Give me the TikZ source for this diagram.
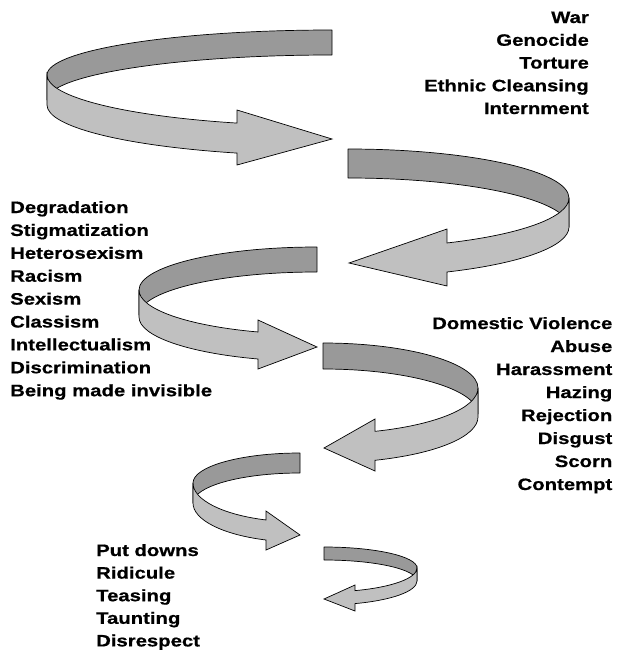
\documentclass[tikz,border=0pt]{standalone}
\usepackage{fontspec}
\newfontfamily\lab[FakeStretch=1.23, BoldFeatures={FakeBold=0.6}]{Liberation Sans}
\definecolor{ribdark}{HTML}{999999}
\definecolor{riblight}{HTML}{C0C0C0}
\tikzset{
  back/.style={fill=ribdark, draw=black, line width=0.7pt, line join=round},
  front/.style={fill=riblight, draw=black, line width=0.7pt, line join=miter},
  lbl/.style={inner sep=0pt, font=\lab\bfseries\fontsize{16.5}{20}\selectfont},
  lblR/.style={lbl, anchor=base east},
  lblL/.style={lbl, anchor=base west}
}
\begin{document}
\begin{tikzpicture}[x=1pt, y=-1pt]
\useasboundingbox (0,0) rectangle (618,656);
% arrow 1 (loops left, points right)
\path[back] (332,30) arc[start angle=-90, end angle=-180, x radius=285, y radius=45]
  -- (47,100) arc[start angle=180, end angle=270, x radius=285, y radius=45] -- cycle;
\path[front] (47,75) arc[start angle=180, end angle=109.47, x radius=285, y radius=51]
  -- (237,110) -- (332,139) -- (237,165) -- (237,153.08)
  arc[start angle=109.47, end angle=180, x radius=285, y radius=51] -- cycle;
% arrow 2 (loops right, points left)
\path[back] (348,149) arc[start angle=270, end angle=360, x radius=221, y radius=49]
  -- (569,227) arc[start angle=0, end angle=-90, x radius=221, y radius=49] -- cycle;
\path[front] (569,198) arc[start angle=0, end angle=63.39, x radius=221, y radius=50.3]
  -- (447,229) -- (349,263) -- (447,286) -- (447,272)
  arc[start angle=63.39, end angle=0, x radius=221, y radius=50.3] -- cycle;
% arrow 3
\path[back] (317,247) arc[start angle=-90, end angle=-180, x radius=178, y radius=43]
  -- (139,315) arc[start angle=180, end angle=270, x radius=178, y radius=43] -- cycle;
\path[front] (139,290) arc[start angle=180, end angle=109.36, x radius=178, y radius=44.5]
  -- (258,320) -- (317,347) -- (258,369) -- (258,359)
  arc[start angle=109.36, end angle=180, x radius=178, y radius=44.5] -- cycle;
% arrow 4
\path[back] (323,343) arc[start angle=270, end angle=360, x radius=155, y radius=45]
  -- (478,414) arc[start angle=0, end angle=-90, x radius=155, y radius=45] -- cycle;
\path[front] (478,388) arc[start angle=0, end angle=70.4, x radius=155, y radius=46]
  -- (375,419) -- (324,448) -- (375,471) -- (375,460.3)
  arc[start angle=70.4, end angle=0, x radius=155, y radius=46] -- cycle;
% arrow 5
\path[back] (300,453) arc[start angle=-90, end angle=-180, x radius=107, y radius=30]
  -- (193,503) arc[start angle=180, end angle=270, x radius=107, y radius=30] -- cycle;
\path[front] (193,483) arc[start angle=180, end angle=108.53, x radius=107, y radius=39]
  -- (266,511) -- (300,535) -- (266,550) -- (266,540)
  arc[start angle=108.53, end angle=180, x radius=107, y radius=39] -- cycle;
% arrow 6
\path[back] (324,547) arc[start angle=270, end angle=360, x radius=93, y radius=21]
  -- (417,581) arc[start angle=0, end angle=-90, x radius=93, y radius=21] -- cycle;
\path[front] (417,568) arc[start angle=0, end angle=70.53, x radius=93, y radius=24]
  -- (355,585) -- (324,599) -- (355,611) -- (355,603.6)
  arc[start angle=70.53, end angle=0, x radius=93, y radius=24] -- cycle;
% labels
\foreach \t [count=\i] in {War, Genocide, Torture, Ethnic Cleansing, Internment}
  \node[lblR, name=ta\i] at (589, {23+22.75*(\i-1)}) {\t};
\foreach \t [count=\i] in {Degradation, Stigmatization, Heterosexism, Racism, Sexism, Classism, Intellectualism, Discrimination, Being made invisible}
  \node[lblL, name=tb\i] at (10, {213+22.9*(\i-1)}) {\t};
\foreach \t [count=\i] in {Domestic Violence, Abuse, Harassment, Hazing, Rejection, Disgust, Scorn, Contempt}
  \node[lblR, name=tc\i] at (612.5, {329+23*(\i-1)}) {\t};
\foreach \t [count=\i] in {Put downs, Ridicule, Teasing, Taunting, Disrespect}
  \node[lblL, name=td\i] at (96, {556+22.6*(\i-1)}) {\t};
\end{tikzpicture}
\end{document}
